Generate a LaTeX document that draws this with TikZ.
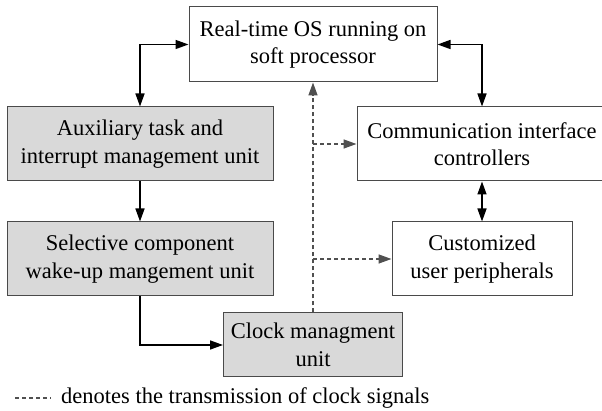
\documentclass[tikz,border=0pt]{standalone}
\usepackage{fontspec}
\setmainfont{Liberation Serif}
\usetikzlibrary{arrows.meta}
\definecolor{boxline}{HTML}{4A4A4A}
\definecolor{boxfill}{HTML}{D9D9D9}
\definecolor{clk}{HTML}{505050}
\tikzset{
  unit/.style={draw=boxline, line width=1pt, inner sep=0pt, align=center,
    font=\fontsize{22.5}{27.5}\selectfont, text=black},
  graybox/.style={unit, fill=boxfill},
  whitebox/.style={unit, fill=white},
  tip/.style={Triangle[length=13pt,width=9pt]},
  link/.style={line width=1.5pt, black, -{Triangle[length=13pt,width=9pt]}},
  duallink/.style={line width=1.5pt, black, {Triangle[length=13pt,width=9pt]}-{Triangle[length=13pt,width=9pt]}},
  clock/.style={line width=1.5pt, clk, dash pattern=on 4pt off 3pt, -{Triangle[length=13pt,width=9pt]}},
}
\begin{document}
\begin{tikzpicture}[x=1pt,y=1pt]
\useasboundingbox (0,0) rectangle (602,411);
\node[whitebox, minimum width=248pt, minimum height=75pt] (rt) at (313,366.5) {Real-time OS running on\\soft processor};
\node[graybox, minimum width=266pt, minimum height=74pt] (aux) at (140,267) {Auxiliary task and\\interrupt management unit};
\node[whitebox, minimum width=250pt, minimum height=74pt] (comm) at (482,267) {Communication interface\\controllers};
\node[graybox, minimum width=266pt, minimum height=74pt] (sel) at (140,152) {Selective component\\wake-up mangement unit};
\node[whitebox, minimum width=180pt, minimum height=74pt] (cust) at (482,152) {Customized\\user peripherals};
\node[graybox, minimum width=179pt, minimum height=64pt] (clk) at (313,66) {Clock managment\\unit};

\draw[duallink] (aux.north) |- (rt.west);
\draw[duallink] (rt.east) -| (comm.north);
\draw[link] (aux.south) -- (sel.north);
\draw[duallink] (comm.south) -- (cust.north);
\draw[link] (sel.south) |- (clk.west);

\draw[clock] (clk.north) -- (rt.south);
\coordinate (b1) at (clk.north |- comm.west);
\coordinate (b2) at (clk.north |- cust.west);
\draw[clock] (b1) -- (comm.west);
\draw[clock] (b2) -- (cust.west);

\node[anchor=west, inner sep=0pt, font=\fontsize{22.5}{27.5}\selectfont] (leg) at (61,13) {denotes the transmission of clock signals};
\coordinate (l0) at (15,13);
\coordinate (l1) at (51,13);
\draw[line width=1.5pt, clk, dash pattern=on 4pt off 3pt] (l0) -- (l1);
\end{tikzpicture}
\end{document}
